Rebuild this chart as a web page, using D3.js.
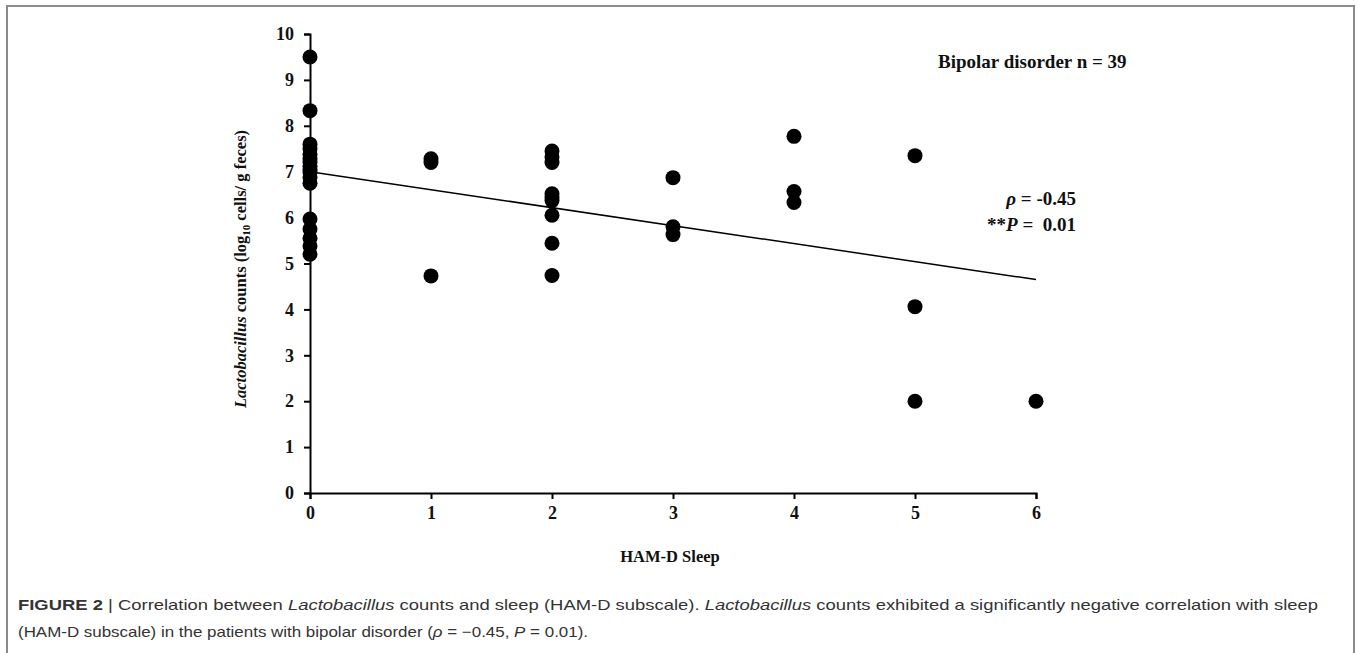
<!DOCTYPE html>
<html>
<head>
<meta charset="utf-8">
<script src="https://cdn.jsdelivr.net/npm/d3@7"></script>
<style>
  body { margin: 0; background: #fff; }
  .serif { font-family: "Liberation Serif", "Times New Roman", serif; font-weight: bold; fill: #111; }
  .cap { font-family: "Liberation Sans", Arial, sans-serif; fill: #333; }
</style>
</head>
<body>
<script>
// HAM-D sleep score per patient
var hamdSleep = [0,0,0,0,0,0,0,0,0,0,0,0,0,0,0,0,0,
                 1,1,1,
                 2,2,2,2,2,2,2,2,2,
                 3,3,3,
                 4,4,4,
                 5,5,5,
                 6];
// Lactobacillus counts (log10 cells / g feces)
var lactoCounts = [9.5,8.33,7.6,7.5,7.38,7.28,7.2,7.12,7.05,6.98,6.88,6.75,5.97,5.75,5.55,5.38,5.2,
                   7.28,7.2,4.73,
                   7.45,7.32,7.2,6.52,6.45,6.37,6.05,5.44,4.74,
                   6.87,5.8,5.63,
                   7.77,6.57,6.33,
                   7.35,4.06,2.0,
                   2.0];
var xTicks = [0,1,2,3,4,5,6];
var yTicks = [0,1,2,3,4,5,6,7,8,9,10];
// fitted line end points
var trendX = [0, 6];
var trendY = [7.0, 4.65];

var W = 1358, H = 653;
var svg = d3.select("body").append("svg")
    .attr("width", W)
    .attr("height", H);

// outer frame
svg.append("rect")
    .attr("x", 7).attr("y", 6)
    .attr("width", 1347).attr("height", 700)
    .attr("fill", "none")
    .attr("stroke", "#8a8a8a")
    .attr("stroke-width", 2);

var x = d3.scaleLinear().domain([0, 6]).range([310, 1036]);
var y = d3.scaleLinear().domain([0, 10]).range([493, 34]);

// axes
var xAxis = svg.append("g")
    .attr("transform", "translate(0," + y(0) + ")")
    .call(d3.axisBottom(x).tickValues(xTicks).tickSize(6).tickPadding(7).tickFormat(d3.format("d")));
var yAxis = svg.append("g")
    .attr("transform", "translate(" + x(0) + ",0)")
    .call(d3.axisLeft(y).tickValues(yTicks).tickSize(6).tickPadding(10).tickFormat(d3.format("d")));

[xAxis, yAxis].forEach(function(g) {
  g.select(".domain").attr("stroke", "#000").attr("stroke-width", 2);
  g.selectAll(".tick line").attr("stroke", "#000").attr("stroke-width", 2);
  g.selectAll(".tick text")
    .attr("class", "serif")
    .style("font-size", "18px")
    .attr("fill", "#111");
});

// trend line
svg.append("line")
    .attr("x1", x(trendX[0])).attr("y1", y(trendY[0]))
    .attr("x2", x(trendX[1])).attr("y2", y(trendY[1]))
    .attr("stroke", "#000")
    .attr("stroke-width", 1.5);

// points
var pts = hamdSleep.map(function(d, i) { return {h: d, l: lactoCounts[i]}; });
svg.selectAll("circle.pt")
    .data(pts)
  .enter().append("circle")
    .attr("class", "pt")
    .attr("cx", function(d) { return x(d.h); })
    .attr("cy", function(d) { return y(d.l); })
    .attr("r", 7.5)
    .attr("fill", "#000");

// axis titles
svg.append("text")
    .attr("class", "serif")
    .attr("x", 670).attr("y", 562)
    .attr("text-anchor", "middle")
    .style("font-size", "16.5px")
    .text("HAM-D Sleep");

var yt = svg.append("text")
    .attr("class", "serif")
    .attr("transform", "translate(246,269) rotate(-90)")
    .attr("text-anchor", "middle")
    .style("font-size", "16.5px");
yt.append("tspan").style("font-style", "italic").text("Lactobacillus");
yt.append("tspan").text(" counts (log");
yt.append("tspan").attr("dy", 4).style("font-size", "11px").text("10");
yt.append("tspan").attr("dy", -4).text(" cells/ g feces)");

// annotations
svg.append("text")
    .attr("class", "serif")
    .attr("x", 938).attr("y", 68)
    .style("font-size", "19px")
    .text("Bipolar disorder n = 39");

var r1 = svg.append("text")
    .attr("class", "serif")
    .attr("x", 1076).attr("y", 205)
    .attr("text-anchor", "end")
    .style("font-size", "19px");
r1.append("tspan").style("font-style", "italic").text("\u03c1");
r1.append("tspan").text(" = -0.45");

var r2 = svg.append("text")
    .attr("class", "serif")
    .attr("x", 1076).attr("y", 231)
    .attr("text-anchor", "end")
    .style("font-size", "19px");
r2.append("tspan").text("**");
r2.append("tspan").style("font-style", "italic").text("P");
r2.append("tspan").attr("xml:space", "preserve").text(" =  0.01");

// caption
var c1 = svg.append("text")
    .attr("class", "cap")
    .attr("x", 18).attr("y", 610)
    .attr("textLength", 1300)
    .attr("lengthAdjust", "spacingAndGlyphs")
    .style("font-size", "15px");
c1.append("tspan").style("font-weight", "bold").text("FIGURE 2");
c1.append("tspan").text(" | Correlation between ");
c1.append("tspan").style("font-style", "italic").text("Lactobacillus");
c1.append("tspan").text(" counts and sleep (HAM-D subscale). ");
c1.append("tspan").style("font-style", "italic").text("Lactobacillus");
c1.append("tspan").text(" counts exhibited a significantly negative correlation with sleep");

var c2 = svg.append("text")
    .attr("class", "cap")
    .attr("x", 18).attr("y", 637)
    .attr("textLength", 570)
    .attr("lengthAdjust", "spacingAndGlyphs")
    .style("font-size", "15px");
c2.append("tspan").text("(HAM-D subscale) in the patients with bipolar disorder (");
c2.append("tspan").style("font-style", "italic").text("\u03c1");
c2.append("tspan").text(" = \u22120.45, ");
c2.append("tspan").style("font-style", "italic").text("P");
c2.append("tspan").text(" = 0.01).");
</script>
</body>
</html>
